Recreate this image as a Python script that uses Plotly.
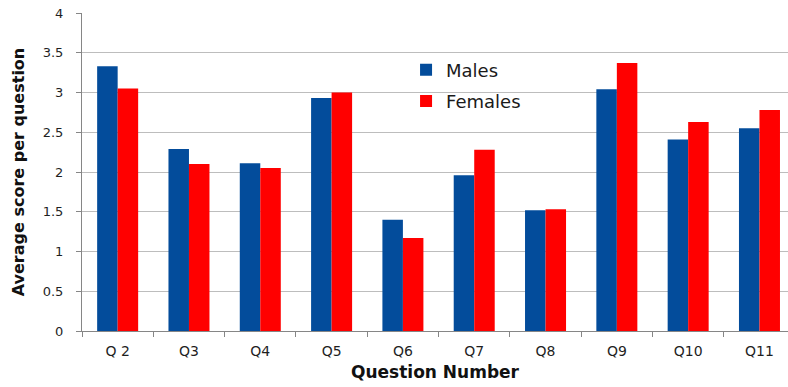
import plotly.graph_objects as go

questions = ["Q 2", "Q3", "Q4", "Q5", "Q6", "Q7", "Q8", "Q9", "Q10", "Q11"]
males = [3.33, 2.29, 2.11, 2.93, 1.40, 1.96, 1.52, 3.04, 2.41, 2.55]
females = [3.05, 2.10, 2.05, 3.00, 1.17, 2.28, 1.53, 3.37, 2.63, 2.78]
y_ticks = [0, 0.5, 1, 1.5, 2, 2.5, 3, 3.5, 4]

BLUE = "#034C9B"
RED = "#FF0000"
FONT = "DejaVu Sans"

fig = go.Figure()
fig.add_trace(go.Bar(x=questions, y=males, name="Males", marker_color=BLUE,
                     marker_line_width=0, legendgroup="m"))
fig.add_trace(go.Bar(x=questions, y=females, name="Females", marker_color=RED,
                     marker_line_width=0, legendgroup="f"))

fig.update_layout(
    width=788, height=387,
    margin=dict(l=82, r=0, t=13, b=56),
    plot_bgcolor="white", paper_bgcolor="white",
    barmode="group", bargap=0.425, bargroupgap=0,
    font=dict(family=FONT, color="#262626"),
    legend=dict(x=0.459, y=0.879, xanchor="left", yanchor="top",
                font=dict(size=18, family=FONT, color="#1a1a1a"),
                bgcolor="rgba(0,0,0,0)", traceorder="grouped",
                tracegroupgap=5),
    xaxis=dict(
        range=[-0.5, 9.4],
        showline=True, linecolor="#868686", linewidth=1,
        ticks="outside", tickson="boundaries", ticklen=5, tickcolor="#868686",
        tickfont=dict(size=14, family=FONT, color="#1f1f1f"),
        ticklabelstandoff=7,
        showgrid=False,
        title=dict(text="<b>Question Number</b>", standoff=8,
                   font=dict(size=17, family=FONT, color="#111111")),
    ),
    yaxis=dict(
        range=[0, 4], tickvals=y_ticks,
        ticktext=[f"{v:g}" for v in y_ticks],
        showline=True, linecolor="#868686", linewidth=1,
        ticks="outside", ticklen=5, tickcolor="#868686",
        tickfont=dict(size=13, family=FONT, color="#1f1f1f"),
        ticklabelstandoff=10,
        showgrid=True, gridcolor="#BDBDBD", gridwidth=1,
        zeroline=False,
        title=dict(text="<b>Average score per question</b>", standoff=14,
                   font=dict(size=16, family=FONT, color="#111111")),
    ),
)

fig.write_html("out.html")
